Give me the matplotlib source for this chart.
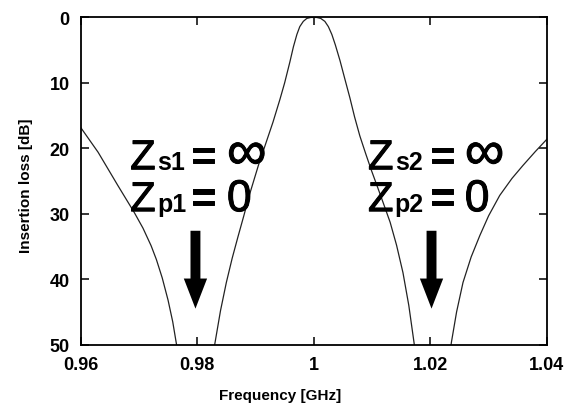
import matplotlib
matplotlib.use("Agg")
import matplotlib.pyplot as plt
import matplotlib.patheffects as pe

plt.rcParams['font.family'] = ['Liberation Sans', 'DejaVu Sans']

# insertion loss curve (GHz, dB)
freq = [0.9600, 0.9630, 0.9664, 0.9692, 0.9707, 0.9721, 0.9730, 0.9740,
        0.9750, 0.9758, 0.9764, 0.9772,
        0.9824, 0.9830, 0.9840, 0.9850, 0.9860, 0.9870, 0.9880, 0.9890,
        0.9905, 0.9919, 0.9930, 0.9942, 0.9950, 0.9959, 0.9965, 0.9971,
        0.9976, 0.9982, 0.9988, 0.9995, 1.0005, 1.0012, 1.0019, 1.0025,
        1.0031, 1.0037, 1.0045, 1.0053, 1.0062, 1.0070, 1.0079, 1.0089,
        1.0099, 1.0115, 1.0131, 1.0142, 1.0153, 1.0163, 1.0172, 1.0178,
        1.0230, 1.0236, 1.0245, 1.0256, 1.0270, 1.0285, 1.0300, 1.0319,
        1.0340, 1.0359, 1.0380, 1.0400]
loss = [16.8, 20.6, 25.7, 29.8, 32.2, 34.9, 37.0, 39.8,
        43.2, 46.5, 49.7, 54.0,
        54.0, 50.0, 44.8, 40.5, 36.8, 33.5, 30.3, 27.0,
        22.6, 18.9, 16.0, 12.5, 10.0, 6.8, 4.5, 2.6,
        1.4, 0.6, 0.15, 0.0, 0.0, 0.15, 0.6, 1.4,
        2.6, 4.2, 6.6, 9.3, 12.3, 15.2, 18.1, 20.8,
        23.4, 27.3, 31.3, 34.8, 39.0, 44.0, 49.7, 54.0,
        54.0, 49.7, 45.0, 40.5, 36.6, 33.3, 30.3, 27.2,
        24.6, 22.6, 20.5, 18.6]

xticks = [0.96, 0.98, 1.00, 1.02, 1.04]
xticklabels = ['0.96', '0.98', '1', '1.02', '1.04']
yticks = [0, 10, 20, 30, 40, 50]

fig = plt.figure(figsize=(5.8, 4.1), dpi=100)
ax = fig.add_axes([0.139, 0.157, 0.804, 0.798])

ax.plot(freq, loss, color='#222222', lw=0.9)
ax.set_xlim(0.96, 1.04)
ax.set_ylim(50, 0)

ax.set_xticks(xticks)
ax.set_xticklabels(xticklabels)
ax.set_yticks(yticks)
ax.tick_params(direction='in', top=True, right=True, length=5.5, width=1.1,
               pad=8, labelsize=13)
for lab in ax.get_xticklabels() + ax.get_yticklabels():
    lab.set_fontweight('bold')
for sp in ax.spines.values():
    sp.set_linewidth(1.3)

ax.set_xlabel('Frequency [GHz]', fontsize=11, fontweight='bold')
ax.xaxis.set_label_coords(0.427, -0.155)
ax.xaxis.label.set_va('center')
ax.set_ylabel('Insertion loss [dB]', fontsize=11, fontweight='bold')
ax.yaxis.set_label_coords(-0.117, 0.49)
ax.yaxis.label.set_va('center')

# Z labels, pieces placed separately
thick = [pe.withStroke(linewidth=0.7, foreground='black')]

def zlabel(x0, xs, xe, xv, y, sub, val, vsize):
    ax.text(x0, y, 'Z', fontsize=30, va='baseline', ha='left', path_effects=thick)
    ax.text(xs, y, sub, fontsize=18, fontweight='bold', va='baseline', ha='left')
    ax.text(xe, y, '=', fontsize=30, fontweight='bold', va='baseline', ha='left',
            path_effects=thick)
    ax.text(xv, y, val, fontsize=vsize, va='baseline', ha='left', path_effects=thick)

zlabel(0.9685, 0.9731, 0.9790, 0.9851, 23.2, 's1', '\u221e', 40)
zlabel(0.9685, 0.9731, 0.9790, 0.9851, 29.6, 'p1', '0', 32)
zlabel(1.0093, 1.0139, 1.0200, 1.0259, 23.2, 's2', '\u221e', 40)
zlabel(1.0093, 1.0139, 1.0200, 1.0259, 29.6, 'p2', '0', 32)

for xa in [0.9797, 1.0202]:
    ax.arrow(xa, 32.6, 0, 11.9, width=0.0017, head_width=0.0040,
             head_length=4.6, length_includes_head=True, color='black', lw=0)

fig.savefig('out.png', dpi=100)
